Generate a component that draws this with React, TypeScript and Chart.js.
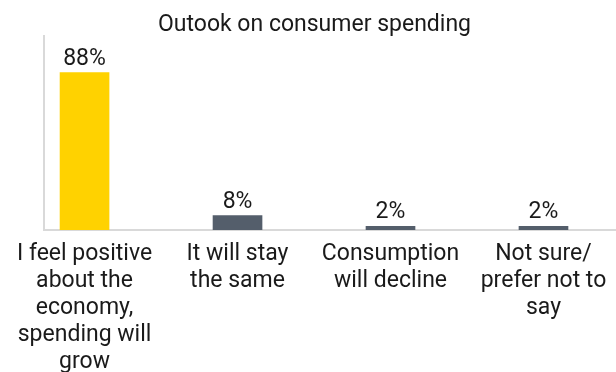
import React, { useEffect, useRef } from "react";
import { Chart, registerables } from "chart.js";

Chart.register(...registerables);

const TITLE = "Outook on consumer spending";
const CATEGORIES: string[][] = [
  ["I feel positive", "about the", "economy,", "spending will", "grow"],
  ["It will stay", "the same"],
  ["Consumption", "will decline"],
  ["Not sure/", "prefer not to", "say"],
];
const VALUES = [88, 8, 2, 2];
const VALUE_LABELS = ["88%", "8%", "2%", "2%"];
const BAR_COLORS = ["#FFD200", "#545E6B", "#545E6B", "#545E6B"];

const FONT = "Roboto";
const TEXT_COLOR = "#1a1a1a";
const AXIS_COLOR = "#d9d9d9";

const titlePlugin = {
  id: "customTitle",
  afterDraw(chart: any) {
    const ctx = chart.ctx;
    ctx.save();
    ctx.font = `23px ${FONT}`;
    ctx.fillStyle = TEXT_COLOR;
    ctx.textAlign = "center";
    ctx.textBaseline = "alphabetic";
    ctx.fillText(TITLE, 314.5, 31);
    ctx.restore();
  },
};

const valueLabelPlugin = {
  id: "valueLabels",
  afterDatasetsDraw(chart: any) {
    const ctx = chart.ctx;
    const meta = chart.getDatasetMeta(0);
    ctx.save();
    ctx.font = `23px ${FONT}`;
    ctx.fillStyle = TEXT_COLOR;
    ctx.textAlign = "center";
    ctx.textBaseline = "alphabetic";
    meta.data.forEach((bar: any, i: number) => {
      ctx.fillText(VALUE_LABELS[i], bar.x, bar.y - 8);
    });
    ctx.restore();
  },
};

export default function App() {
  const ref = useRef<HTMLCanvasElement | null>(null);

  useEffect(() => {
    if (!ref.current) return;
    const chart = new Chart(ref.current, {
      type: "bar",
      data: {
        datasets: [
          {
            data: VALUES.map((v, i) => ({ x: i, y: v })),
            backgroundColor: BAR_COLORS,
            barThickness: 49,
            borderWidth: 0,
          },
        ],
      },
      options: {
        animation: false,
        responsive: false,
        layout: { padding: { left: 44, top: 36, right: 0, bottom: 0 } },
        plugins: {
          legend: { display: false },
          tooltip: { enabled: false },
          title: { display: false },
        },
        scales: {
          x: {
            type: "linear",
            bounds: "data",
            offset: false,
            min: -0.265,
            max: 3.474,
            grid: { display: false, drawTicks: false, offset: false },
            border: { display: true, color: AXIS_COLOR, width: 2 },
            afterBuildTicks: (s: any) => {
              s.ticks = CATEGORIES.map((_, i) => ({ value: i }));
            },
            afterFit: (s: any) => {
              s.paddingLeft = 0;
              s.paddingRight = 0;
              s.height = 142;
            },
            ticks: {
              autoSkip: false,
              maxRotation: 0,
              minRotation: 0,
              padding: 11,
              color: TEXT_COLOR,
              font: { family: FONT, size: 23, lineHeight: "27px" },
              callback: (v: any) => CATEGORIES[Number(v)] ?? "",
            },
          } as any,
          y: {
            min: 0,
            max: 108.5,
            grid: { display: false, drawTicks: false },
            border: { display: true, color: AXIS_COLOR, width: 2 },
            ticks: { display: false },
            afterFit: (s: any) => {
              s.width = 0;
            },
          },
        },
      },
      plugins: [titlePlugin, valueLabelPlugin],
    });
    return () => chart.destroy();
  }, []);

  return (
    <div style={{ position: "absolute", left: 0, top: 0, width: 616, height: 372, background: "#fff" }}>
      <canvas ref={ref} width={616} height={372} />
    </div>
  );
}
